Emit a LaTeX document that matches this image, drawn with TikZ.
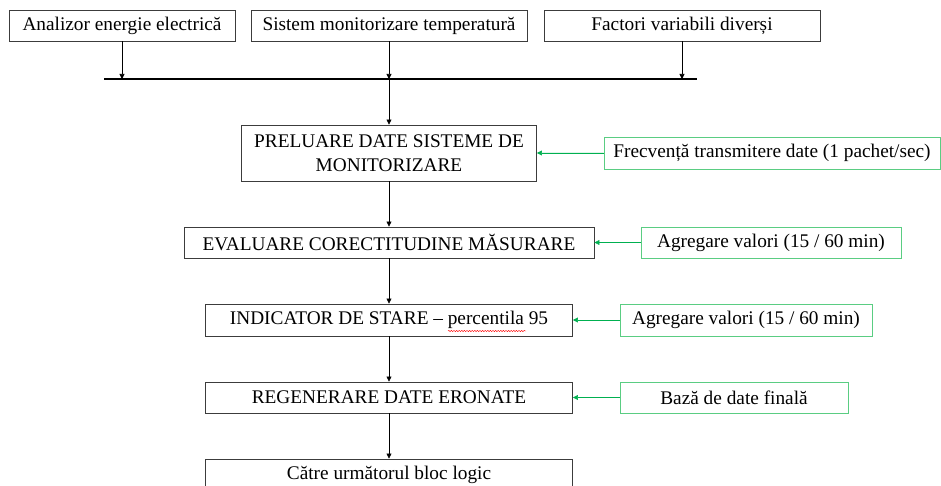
\documentclass[tikz,border=0pt]{standalone}
\usepackage{fontspec}
\setmainfont{Liberation Serif}
\usetikzlibrary{arrows.meta,decorations.pathmorphing}
\definecolor{gr}{RGB}{0,176,80}
\definecolor{grb}{RGB}{90,205,130}
\definecolor{bx}{RGB}{60,60,60}
\begin{document}
\begin{tikzpicture}[x=1pt,y=-1pt,
  box/.style={draw=bx,line width=0.9pt,inner sep=0pt,font=\fontsize{19.3}{23.5}\selectfont,align=center},
  gbox/.style={box,draw=grb},
  arr/.style={-{Triangle[length=5pt,width=5pt]},line width=0.6pt,black},
  garr/.style={arr,draw=gr,fill=gr}]
\useasboundingbox (0,0) rectangle (941,486);
\clip (0,0) rectangle (941,486);
% top sources
\node[box,minimum width=226pt,minimum height=31pt] (a1) at (122,25.5) {Analizor energie electrică};
\node[box,minimum width=276pt,minimum height=31pt] (a2) at (389,25.5) {Sistem monitorizare temperatură};
\node[box,minimum width=276pt,minimum height=31pt] (a3) at (682,25.5) {Factori variabili diverși};
\coordinate (busL) at (104,79);
\coordinate (busR) at (697,79);
\draw[line width=1.4pt] (busL) -- (busR);
\draw[arr] (a1.south) -- (a1.south |- busL);
\draw[arr] (a2.south) -- (a2.south |- busL);
\draw[arr] (a3.south) -- (a3.south |- busL);
% main chain
\node[box,minimum width=295pt,minimum height=56pt] (p1) at (389,153) {PRELUARE DATE SISTEME DE\\MONITORIZARE};
\node[box,minimum width=410pt,minimum height=31pt] (p2) at (389,242.5) {EVALUARE CORECTITUDINE MĂSURARE};
\node[box,minimum width=367pt,minimum height=32pt] (p3) at (389,320) {INDICATOR DE STARE – percentila 95};
\node[box,minimum width=367pt,minimum height=31pt] (p4) at (389,397.5) {REGENERARE DATE ERONATE};
\node[box,minimum width=367pt,minimum height=32pt] (p5) at (389,475) {Către următorul bloc logic};
\draw[arr] (p1.north |- busL) -- (p1.north);
\draw[arr] (p1.south) -- (p2.north);
\draw[arr] (p2.south) -- (p3.north);
\draw[arr] (p3.south) -- (p4.north);
\draw[arr] (p4.south) -- (p5.north);
% green inputs
\node[gbox,minimum width=336pt,minimum height=32pt] (g1) at (772,153) {Frecvență transmitere date (1 pachet/sec)};
\node[gbox,minimum width=260pt,minimum height=31pt] (g2) at (771,242.5) {Agregare valori (15 / 60 min)};
\node[gbox,minimum width=252pt,minimum height=32pt] (g3) at (746,320) {Agregare valori (15 / 60 min)};
\node[gbox,minimum width=228pt,minimum height=31pt] (g4) at (734,397.5) {Bază de date finală};
\draw[garr] (g1.west) -- (p1.east);
\draw[garr] (g2.west) -- (p2.east);
\draw[garr] (g3.west) -- (p3.east);
\draw[garr] (g4.west) -- (p4.east);
% spell-check underline
\draw[red,line width=0.4pt,decorate,decoration={snake,amplitude=0.7pt,segment length=2.6pt}] (448,331) -- (526,331);
\end{tikzpicture}
\end{document}
